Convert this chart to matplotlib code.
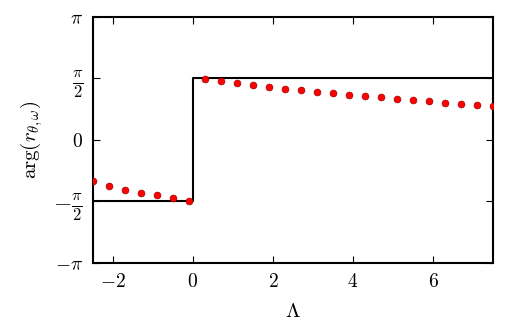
import numpy as np
import matplotlib
matplotlib.use("Agg")
import matplotlib.pyplot as plt

plt.rcParams['mathtext.fontset'] = 'cm'
plt.rcParams['font.family'] = 'serif'
plt.rcParams['font.serif'] = ['DejaVu Serif']

pi = np.pi

# step (ideal phase)
step_x = [-2.5, 0.0, 0.0, 7.5]
step_y = [-pi / 2, -pi / 2, pi / 2, pi / 2]

# computed phase (dots)
lam = [-2.5, -2.1, -1.7, -1.3, -0.9, -0.5, -0.1,
       0.3, 0.7, 1.1, 1.5, 1.9, 2.3, 2.7, 3.1, 3.5, 3.9,
       4.3, 4.7, 5.1, 5.5, 5.9, 6.3, 6.7, 7.1, 7.5]
phase = [-1.046, -1.166, -1.268, -1.344, -1.411, -1.487, -1.548,
         1.548, 1.497, 1.446, 1.395, 1.360, 1.309, 1.268, 1.232, 1.191, 1.156,
         1.122, 1.089, 1.054, 1.020, 0.987, 0.952, 0.926, 0.901, 0.875]

yticks = [-pi, -pi / 2, 0, pi / 2, pi]
ytick_labels = [r'$-\pi$', r'$-\frac{\pi}{2}$', r'$0$', r'$\frac{\pi}{2}$', r'$\pi$']
xticks = [-2, 0, 2, 4, 6]

fig = plt.figure(figsize=(5.19, 3.21), dpi=100)
ax = fig.add_axes([0.179, 0.181, 0.771, 0.766])

ax.plot(step_x, step_y, color='black', lw=1.5)
ax.plot(lam, phase, 'o', color='red', markeredgecolor='#8b0000',
        markeredgewidth=0.4, markersize=5, zorder=3)

ax.set_xlim(-2.5, 7.5)
ax.set_ylim(-pi, pi)
ax.set_xticks(xticks)
ax.set_xticklabels([r'$%d$' % v if v >= 0 else r'$-%d$' % abs(v) for v in xticks])
ax.set_yticks(yticks)
ax.set_yticklabels(ytick_labels)
ax.tick_params(direction='in', top=True, right=True, labelsize=14, length=5, width=0.8, pad=7)
# fractions are drawn a bit larger so the small pi and 2 match the others
for lbl in ax.get_yticklabels():
    if 'frac' in lbl.get_text():
        lbl.set_fontsize(17)
for s in ax.spines.values():
    s.set_linewidth(1.5)

ax.set_xlabel(r'$\Lambda$', fontsize=15, labelpad=8)
ax.set_ylabel(r'$\arg(r_{\theta,\omega})$', fontsize=15, labelpad=6)

fig.savefig('out.png', dpi=100)
